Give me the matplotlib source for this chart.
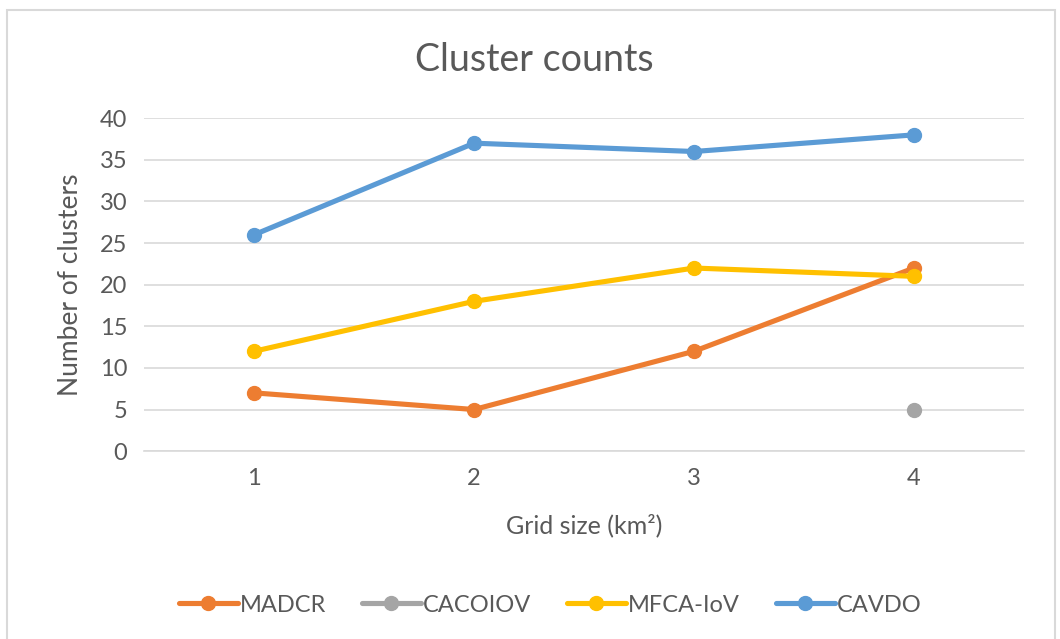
import numpy as np
import matplotlib.pyplot as plt
from matplotlib.patches import Rectangle

plt.rcParams['font.family'] = ['Lato', 'DejaVu Sans']

# Data
grid_sizes = [1, 2, 3, 4]
madcr = [7, 5, 12, 22]
cacoiov = [np.nan, np.nan, np.nan, 5]
mfca_iov = [12, 18, 22, 21]
cavdo = [26, 37, 36, 38]

series = [
    ("MADCR", madcr, "#ED7D31"),
    ("CACOIOV", cacoiov, "#A5A5A5"),
    ("MFCA-IoV", mfca_iov, "#FFC000"),
    ("CAVDO", cavdo, "#5B9BD5"),
]

text_color = "#595959"
grid_color = "#D9D9D9"

fig = plt.figure(figsize=(10.6, 6.39), dpi=100)
ax = fig.add_axes([0.136, 0.294, 0.830, 0.521])

for name, values, color in series:
    ax.plot(grid_sizes, values, color=color, linewidth=3.7, marker='o',
            markersize=10, label=name, solid_capstyle='round')

ax.set_xlim(0.5, 4.5)
ax.set_ylim(0, 40)
ax.set_yticks(np.arange(0, 41, 5))
ax.set_xticks(grid_sizes)
ax.grid(axis='y', color=grid_color, linewidth=1.2)
ax.set_axisbelow(True)
for side in ['top', 'right', 'left']:
    ax.spines[side].set_visible(False)
ax.spines['bottom'].set_color(grid_color)
ax.spines['bottom'].set_linewidth(1.2)
ax.tick_params(length=0, labelsize=17, colors=text_color, pad=12)

fig.text(0.504, 0.906, "Cluster counts", fontsize=27, color=text_color,
         ha='center', va='center')
ax.set_xlabel("Grid size (km²)", fontsize=18, color=text_color, labelpad=18)
ax.set_ylabel("Number of clusters", fontsize=19, color=text_color, labelpad=12)

fig.legend(loc='center', bbox_to_anchor=(0.519, 0.053), ncol=4, frameon=False,
           fontsize=17, handlelength=2.5, columnspacing=1.5, handletextpad=0.1,
           labelcolor=text_color)

fig.patches.append(Rectangle((7 / 1060, -0.02), 1048 / 1060, 1 - 10 / 639 + 0.02,
                             transform=fig.transFigure, fill=False,
                             edgecolor=grid_color, linewidth=1.5))

fig.savefig("out.png", dpi=100)
